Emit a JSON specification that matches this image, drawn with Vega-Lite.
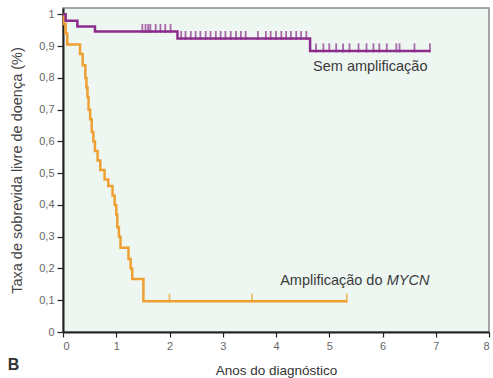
{
  "$schema": "https://vega.github.io/schema/vega-lite/v6.json",
  "autosize": {"type": "none"},
  "width": 426,
  "height": 324,
  "padding": {"left": 63, "top": 8, "right": 4, "bottom": 46},
  "background": "white",
  "config": {
    "font": "Liberation Sans",
    "view": {"fill": "#eef6f1", "stroke": "#888", "strokeWidth": 1.5}
  },
  "datasets": {
    "curves": [
      {"group": "MYCN", "t": 0, "s": 1.0},
      {"group": "MYCN", "t": 0.02, "s": 0.97},
      {"group": "MYCN", "t": 0.05, "s": 0.94},
      {"group": "MYCN", "t": 0.08, "s": 0.905},
      {"group": "MYCN", "t": 0.32, "s": 0.875},
      {"group": "MYCN", "t": 0.37, "s": 0.84},
      {"group": "MYCN", "t": 0.42, "s": 0.8},
      {"group": "MYCN", "t": 0.44, "s": 0.77},
      {"group": "MYCN", "t": 0.46, "s": 0.74},
      {"group": "MYCN", "t": 0.48, "s": 0.7},
      {"group": "MYCN", "t": 0.51, "s": 0.67},
      {"group": "MYCN", "t": 0.54, "s": 0.63},
      {"group": "MYCN", "t": 0.57, "s": 0.6},
      {"group": "MYCN", "t": 0.6, "s": 0.57},
      {"group": "MYCN", "t": 0.65, "s": 0.54},
      {"group": "MYCN", "t": 0.7, "s": 0.51},
      {"group": "MYCN", "t": 0.78, "s": 0.48},
      {"group": "MYCN", "t": 0.85, "s": 0.46},
      {"group": "MYCN", "t": 0.93, "s": 0.43},
      {"group": "MYCN", "t": 0.97, "s": 0.4},
      {"group": "MYCN", "t": 1.0, "s": 0.37},
      {"group": "MYCN", "t": 1.02, "s": 0.33},
      {"group": "MYCN", "t": 1.05, "s": 0.3},
      {"group": "MYCN", "t": 1.08, "s": 0.265},
      {"group": "MYCN", "t": 1.23, "s": 0.23},
      {"group": "MYCN", "t": 1.27, "s": 0.2},
      {"group": "MYCN", "t": 1.3, "s": 0.167},
      {"group": "MYCN", "t": 1.51, "s": 0.097},
      {"group": "MYCN", "t": 5.33, "s": 0.097},
      {"group": "Sem", "t": 0, "s": 1.0},
      {"group": "Sem", "t": 0.05, "s": 0.98},
      {"group": "Sem", "t": 0.27, "s": 0.962},
      {"group": "Sem", "t": 0.6, "s": 0.946},
      {"group": "Sem", "t": 2.15, "s": 0.924},
      {"group": "Sem", "t": 4.64, "s": 0.885},
      {"group": "Sem", "t": 6.9, "s": 0.885}
    ],
    "censor": [
      {"group": "MYCN", "t": 2.0, "s": 0.097},
      {"group": "MYCN", "t": 3.55, "s": 0.097},
      {"group": "MYCN", "t": 5.33, "s": 0.097},
      {"group": "Sem", "t": 1.49, "s": 0.946},
      {"group": "Sem", "t": 1.55, "s": 0.946},
      {"group": "Sem", "t": 1.6, "s": 0.946},
      {"group": "Sem", "t": 1.64, "s": 0.946},
      {"group": "Sem", "t": 1.74, "s": 0.946},
      {"group": "Sem", "t": 1.83, "s": 0.946},
      {"group": "Sem", "t": 1.92, "s": 0.946},
      {"group": "Sem", "t": 2.02, "s": 0.946},
      {"group": "Sem", "t": 2.22, "s": 0.924},
      {"group": "Sem", "t": 2.3, "s": 0.924},
      {"group": "Sem", "t": 2.4, "s": 0.924},
      {"group": "Sem", "t": 2.49, "s": 0.924},
      {"group": "Sem", "t": 2.58, "s": 0.924},
      {"group": "Sem", "t": 2.68, "s": 0.924},
      {"group": "Sem", "t": 2.77, "s": 0.924},
      {"group": "Sem", "t": 2.87, "s": 0.924},
      {"group": "Sem", "t": 2.96, "s": 0.924},
      {"group": "Sem", "t": 3.05, "s": 0.924},
      {"group": "Sem", "t": 3.15, "s": 0.924},
      {"group": "Sem", "t": 3.25, "s": 0.924},
      {"group": "Sem", "t": 3.34, "s": 0.924},
      {"group": "Sem", "t": 3.43, "s": 0.924},
      {"group": "Sem", "t": 3.66, "s": 0.924},
      {"group": "Sem", "t": 3.81, "s": 0.924},
      {"group": "Sem", "t": 3.9, "s": 0.924},
      {"group": "Sem", "t": 4.0, "s": 0.924},
      {"group": "Sem", "t": 4.1, "s": 0.924},
      {"group": "Sem", "t": 4.19, "s": 0.924},
      {"group": "Sem", "t": 4.28, "s": 0.924},
      {"group": "Sem", "t": 4.38, "s": 0.924},
      {"group": "Sem", "t": 4.47, "s": 0.924},
      {"group": "Sem", "t": 4.57, "s": 0.924},
      {"group": "Sem", "t": 4.75, "s": 0.885},
      {"group": "Sem", "t": 4.89, "s": 0.885},
      {"group": "Sem", "t": 5.0, "s": 0.885},
      {"group": "Sem", "t": 5.13, "s": 0.885},
      {"group": "Sem", "t": 5.26, "s": 0.885},
      {"group": "Sem", "t": 5.38, "s": 0.885},
      {"group": "Sem", "t": 5.55, "s": 0.885},
      {"group": "Sem", "t": 5.7, "s": 0.885},
      {"group": "Sem", "t": 5.83, "s": 0.885},
      {"group": "Sem", "t": 5.94, "s": 0.885},
      {"group": "Sem", "t": 6.08, "s": 0.885},
      {"group": "Sem", "t": 6.26, "s": 0.885},
      {"group": "Sem", "t": 6.32, "s": 0.885},
      {"group": "Sem", "t": 6.6, "s": 0.885},
      {"group": "Sem", "t": 6.89, "s": 0.885}
    ]
  },
  "encoding": {
    "x": {
      "field": "t", "type": "quantitative",
      "scale": {"domain": [0, 8], "nice": false, "zero": false},
      "axis": {
        "title": "Anos do diagnóstico", "values": [0,1,2,3,4,5,6,7,8],
        "grid": false, "domainColor": "#222", "domainWidth": 2,
        "tickColor": "#222", "tickSize": 5, "tickWidth": 1.2,
        "labelFontSize": 11, "labelColor": "#666", "labelPadding": 3,
        "titleFontSize": 13.5, "titleFontWeight": "normal", "titleColor": "#333", "titlePadding": 12
      }
    },
    "y": {
      "field": "s", "type": "quantitative",
      "scale": {"domain": [0, 1.02], "nice": false},
      "axis": {
        "title": "Taxa de sobrevida livre de doença (%)",
        "values": [0,0.1,0.2,0.3,0.4,0.5,0.6,0.7,0.8,0.9,1],
        "labelExpr": "replace(format(datum.value, '.1~f'), '.', ',')",
        "grid": false, "domainColor": "#222", "domainWidth": 2,
        "tickColor": "#222", "tickSize": 6, "tickWidth": 1.2,
        "labelFontSize": 11, "labelColor": "#666", "labelPadding": 3,
        "titleFontSize": 14.5, "titleFontWeight": "normal", "titleColor": "#444", "titlePadding": 14
      }
    }
  },
  "layer": [
    {
      "data": {"name": "curves"},
      "mark": {"type": "line", "interpolate": "step-after", "strokeWidth": 2.5},
      "encoding": {
        "color": {"field": "group", "type": "nominal", "scale": {"domain": ["MYCN", "Sem"], "range": ["#eea032", "#8c2c8c"]}, "legend": null}
      }
    },
    {
      "data": {"name": "censor"},
      "mark": {"type": "tick", "orient": "vertical", "size": 9, "thickness": 1.8, "yOffset": -3},
      "encoding": {
        "color": {"field": "group", "type": "nominal", "scale": {"domain": ["MYCN", "Sem"], "range": ["#eea032", "#8c2c8c"]}, "legend": null}
      }
    },
    {
      "data": {"values": [{"label": "Sem amplificação", "t": 5.77, "s": 0.833}]},
      "mark": {"type": "text", "fontSize": 14.5, "color": "#3a3a3a", "baseline": "middle", "align": "center"},
      "encoding": {"text": {"field": "label"}}
    },
    {
      "data": {"values": [{"label": "Amplificação do", "t": 6.0, "s": 0.161}]},
      "mark": {"type": "text", "fontSize": 14.5, "color": "#3a3a3a", "baseline": "middle", "align": "right"},
      "encoding": {"text": {"field": "label"}}
    },
    {
      "data": {"values": [{"label": "MYCN", "t": 6.08, "s": 0.161}]},
      "mark": {"type": "text", "fontSize": 14.5, "fontStyle": "italic", "color": "#3a3a3a", "baseline": "middle", "align": "left"},
      "encoding": {"text": {"field": "label"}}
    },
    {
      "data": {"values": [{"label": "B", "t": -1.0, "s": -0.105}]},
      "mark": {"type": "text", "fontSize": 16, "fontWeight": "bold", "color": "#333", "align": "left", "baseline": "middle", "dx": -2},
      "encoding": {"text": {"field": "label"}}
    }
  ]
}
